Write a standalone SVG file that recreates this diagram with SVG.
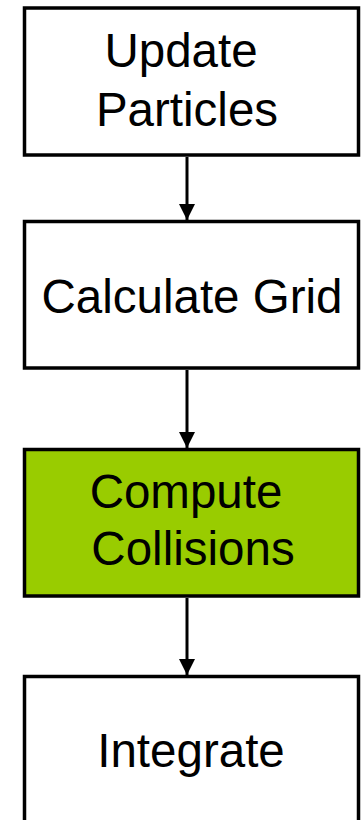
<svg xmlns="http://www.w3.org/2000/svg" width="361" height="820" viewBox="0 0 361 820">
  <style>
    .box { fill: #ffffff; stroke: #000000; stroke-width: 3.5; }
    .hot { fill: #99cc00; }
    .label { font-family: "Liberation Sans", Arial, sans-serif; font-size: 47.5px; fill: #000000; text-anchor: middle; }
    .link { stroke: #000000; stroke-width: 3; fill: none; }
  </style>
  <defs>
    <marker id="head" viewBox="0 0 16 16" refX="16" refY="8" markerWidth="16" markerHeight="16" markerUnits="userSpaceOnUse" orient="auto">
      <path d="M0,0 L16,8 L0,16 Z" fill="#000000"/>
    </marker>
  </defs>

  <g id="connectors">
    <line class="link" x1="187" y1="157" x2="187" y2="220" marker-end="url(#head)"/>
    <line class="link" x1="187" y1="370" x2="187" y2="448" marker-end="url(#head)"/>
    <line class="link" x1="187" y1="598" x2="187" y2="675" marker-end="url(#head)"/>
  </g>

  <g id="update-particles">
    <rect class="box" x="24.5" y="8" width="334" height="147"/>
    <text class="label" x="181" y="67">Update</text>
    <text class="label" x="187" y="126">Particles</text>
  </g>

  <g id="calculate-grid">
    <rect class="box" x="24.5" y="221.5" width="334" height="146.5"/>
    <text class="label" x="192" y="313">Calculate Grid</text>
  </g>

  <g id="compute-collisions">
    <rect class="box hot" x="24.5" y="449.5" width="334" height="146.5"/>
    <text class="label" x="186" y="507.5">Compute</text>
    <text class="label" x="193" y="564.5">Collisions</text>
  </g>

  <g id="integrate">
    <rect class="box" x="24.5" y="676.5" width="334" height="150"/>
    <text class="label" x="191" y="766.5">Integrate</text>
  </g>
</svg>
